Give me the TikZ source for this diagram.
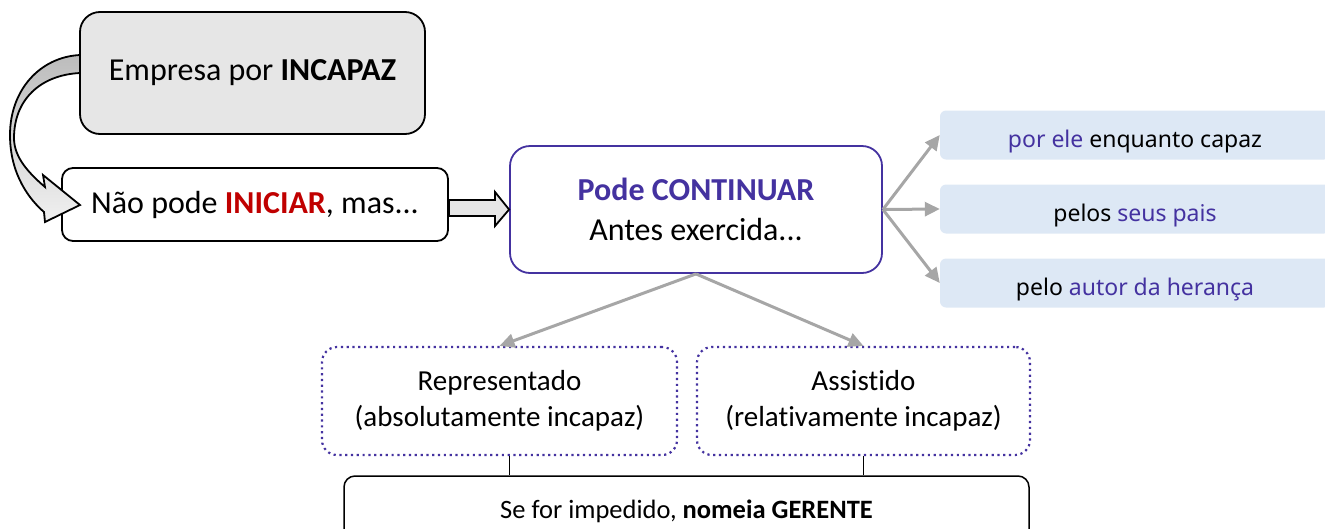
\documentclass[tikz,border=0pt]{standalone}
\usepackage{fontspec}
\setmainfont{Carlito}[Ligatures={TeX,NoCommon}]
\newfontfamily\gothic{Noto Sans}
\usetikzlibrary{arrows.meta}
\definecolor{roxo}{RGB}{68,50,160}
\definecolor{vermelho}{RGB}{192,0,0}
\definecolor{cinza}{RGB}{166,166,166}
\definecolor{azulclaro}{RGB}{221,232,245}
\definecolor{cinzaclaro}{RGB}{230,230,230}
\tikzset{
  caixa/.style={draw=black, line width=1.8pt, inner sep=0pt, align=center},
  caixacinza/.style={caixa, fill=cinzaclaro, rounded corners=20pt, minimum width=345pt, minimum height=122pt, font=\fontsize{32}{38}\selectfont},
  caixabranca/.style={caixa, fill=white, rounded corners=11pt, minimum width=386pt, minimum height=73pt, font=\fontsize{32}{38}\selectfont},
  caixaroxa/.style={caixa, draw=roxo, fill=white, rounded corners=20pt, minimum width=372pt, minimum height=127pt, font=\fontsize{32}{40}\selectfont},
  caixaazul/.style={inner sep=0pt, fill=azulclaro, rounded corners=6pt, minimum width=390pt, minimum height=49pt, text height=25pt, text depth=0pt, font=\gothic\fontsize{23}{28}\selectfont},
  caixapontos/.style={caixa, draw=roxo, line width=2.2pt, dash pattern=on 2.2pt off 3.6pt, rounded corners=15pt, minimum height=108pt, font=\fontsize{29}{36}\selectfont},
  caixafinal/.style={caixa, line width=1.5pt, rounded corners=11pt, minimum width=685pt, minimum height=70pt, font=\fontsize{26.5}{32}\selectfont},
  conector/.style={draw=cinza, line width=3pt, -{Triangle[length=15pt,width=14pt]}},
  blocoseta/.style={draw=black, line width=1.8pt, line join=miter},
}
\begin{document}
\begin{tikzpicture}[x=1pt, y=-1pt]
  \useasboundingbox (0,0) rectangle (1325,528);
  \clip (0,0) rectangle (1325,528);
  \node[caixacinza] (empresa) at (252.5,73) {Empresa por \textbf{INCAPAZ}};
  \node[caixabranca] (nao) at (255,204.5) {Não pode \textbf{\color{vermelho}INICIAR}, mas...};
  \node[caixaroxa] (pode) at (696,209.5) {\textbf{\color{roxo}Pode CONTINUAR}\\Antes exercida...};
  \node[caixaazul] (ele) at (1135,135) {\color{roxo}por ele \color{black}enquanto capaz};
  \node[caixaazul] (pais) at (1135,209) {pelos \color{roxo}seus pais};
  \node[caixaazul] (heranca) at (1135,283) {pelo \color{roxo}autor da herança};
  \node[caixapontos, minimum width=355pt] (repr) at (499.5,401) {Representado\\(absolutamente incapaz)};
  \node[caixapontos, minimum width=333pt] (assist) at (863.5,401) {Assistido\\(relativamente incapaz)};
  \node[caixafinal] (gerente) at (686.5,511) {Se for impedido, \textbf{nomeia GERENTE}};
  \draw[blocoseta, top color=cinza!75, bottom color=cinzaclaro!60]
    (80,55) .. controls (40,57) and (10,90) .. (10,135)
    .. controls (10,175) and (30,200) .. (44,212) -- (45,222) -- (80,205) -- (43,175) -- (45,187)
    .. controls (25,170) and (14,155) .. (14,138)
    .. controls (14,100) and (40,75) .. (80,73) -- cycle;
  \draw[blocoseta, fill=cinzaclaro] (nao.east |- 0,200) -- (495,200) -- (495,192) -- (pode.west) -- (495,226) -- (495,216) -- (nao.east |- 0,216) -- cycle;
  \draw[conector] (pode.east) -- (ele.west);
  \draw[conector] (pode.east) -- (pais.west);
  \draw[conector] (pode.east) -- (heranca.west);
  \draw[conector] (pode.south) -- (repr.north);
  \draw[conector] (pode.south) -- (assist.north);
  \draw[line width=1.2pt] ([xshift=10pt]repr.south) -- ([xshift=10pt]repr.south |- gerente.north);
  \draw[line width=1.2pt] (assist.south) -- (assist.south |- gerente.north);
\end{tikzpicture}
\end{document}
